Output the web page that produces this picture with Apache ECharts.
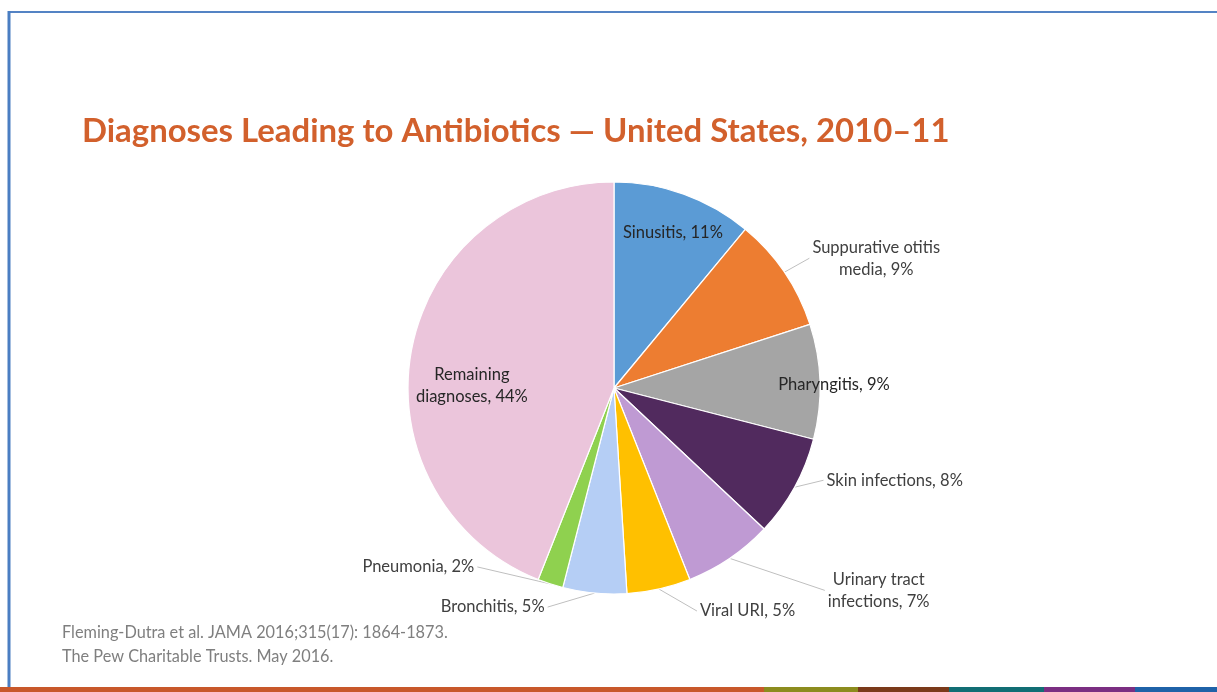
<!DOCTYPE html>
<html><head><meta charset="utf-8">
<script src="https://cdn.jsdelivr.net/npm/echarts@6/dist/echarts.min.js"></script>
<style>html,body{margin:0;padding:0;background:#fff}#c{width:1217px;height:692px}</style>
</head><body><div id="c"></div>
<script>
// ---- data ----
const titleText = 'Diagnoses Leading to Antibiotics \u2014 United States, 2010\u201311';
const categories = ['Sinusitis', 'Suppurative otitis\nmedia', 'Pharyngitis', 'Skin infections',
  'Urinary tract\ninfections', 'Viral URI', 'Bronchitis', 'Pneumonia', 'Remaining\ndiagnoses'];
const values = [11, 9, 9, 8, 7, 5, 5, 2, 44];
const sources = ['Fleming-Dutra et al. JAMA 2016;315(17): 1864-1873.', 'The Pew Charitable Trusts. May 2016.'];

// ---- styles ----
const colors = ['#5B9BD5', '#ED7D31', '#A5A5A5', '#512A5E', '#BF9AD3', '#FFC000', '#B5CEF5', '#8FD14F', '#EBC5DB'];
const insideIdx = [0, 2, 8];
// label shift for inside labels (dx, dy)
const insideShift = {0: [23, -56], 2: [114, 0], 8: [-38, 18]};
// offset of label near edge from slice edge point
const nearOffsets = {1: [28, -14], 3: [32, -7], 4: [98, 32], 5: [41, 22], 6: [-50, 14], 7: [-76, -17]};
const barColors = ['#C8582A', '#8C8C1E', '#7A3A1A', '#126E74', '#7B2E82', '#1F62A8'];
const barStops = [0, 764, 858, 949, 1044, 1135, 1217];

const chart = echarts.init(document.getElementById('c'), null, {renderer: 'canvas'});
const FONT = 'Lato';

const data = categories.map((n, i) => ({
  name: n, value: values[i],
  itemStyle: {color: colors[i]},
  label: insideIdx.includes(i) ? {position: 'inside', color: '#262626'} : {position: 'outside', color: '#404040'},
  labelLine: {show: !insideIdx.includes(i)}
}));

const graphics = [
  {type: 'line', shape: {x1: 9, y1: 12, x2: 1217, y2: 12}, style: {stroke: '#5483C4', lineWidth: 2}, z: 10},
  {type: 'line', shape: {x1: 9, y1: 11, x2: 9, y2: 687}, style: {stroke: '#4A7EC2', lineWidth: 3}, z: 10},
];
for (let i = 0; i < barColors.length; i++) {
  graphics.push({type: 'rect', shape: {x: barStops[i], y: 687, width: barStops[i + 1] - barStops[i], height: 5}, style: {fill: barColors[i]}, z: 10});
}
sources.forEach((s, i) => graphics.push({
  type: 'text', left: 62, top: 625 + i * 24,
  style: {text: s, fill: '#7F7F7F', font: '16.3px ' + FONT}
}));

chart.setOption({
  animation: false,
  title: {
    text: titleText, left: 77, top: 110,
    textStyle: {color: '#D2602C', fontFamily: FONT, fontWeight: 'bold', fontSize: 32.9}
  },
  graphic: graphics,
  series: [{
    type: 'pie',
    center: [614, 388], radius: 206,
    startAngle: 90, clockwise: true,
    avoidLabelOverlap: false,
    silent: true,
    itemStyle: {borderColor: '#fff', borderWidth: 1.2},
    label: {
      fontFamily: FONT, fontSize: 16.5, lineHeight: 22,
      formatter: p => p.name + ', ' + p.value + '%'
    },
    labelLine: {lineStyle: {color: '#BFBFBF', width: 1}},
    labelLayout: function (p) {
      const i = p.dataIndex;
      if (insideShift[i]) return {dx: insideShift[i][0], dy: insideShift[i][1]};
      const o = nearOffsets[i];
      if (!o || !p.labelLinePoints) return {};
      const e = p.labelLinePoints[0];
      const nx = e[0] + o[0], ny = e[1] + o[1];
      const w = p.labelRect.width;
      const right = o[0] > 0;
      const cx = right ? nx + w / 2 : nx - w / 2;
      const end = [right ? nx - 3 : nx + 3, ny];
      return {x: cx, y: ny, align: 'center', verticalAlign: 'middle', labelLinePoints: [e, end, end]};
    },
    data: data
  }]
});
</script></body></html>
